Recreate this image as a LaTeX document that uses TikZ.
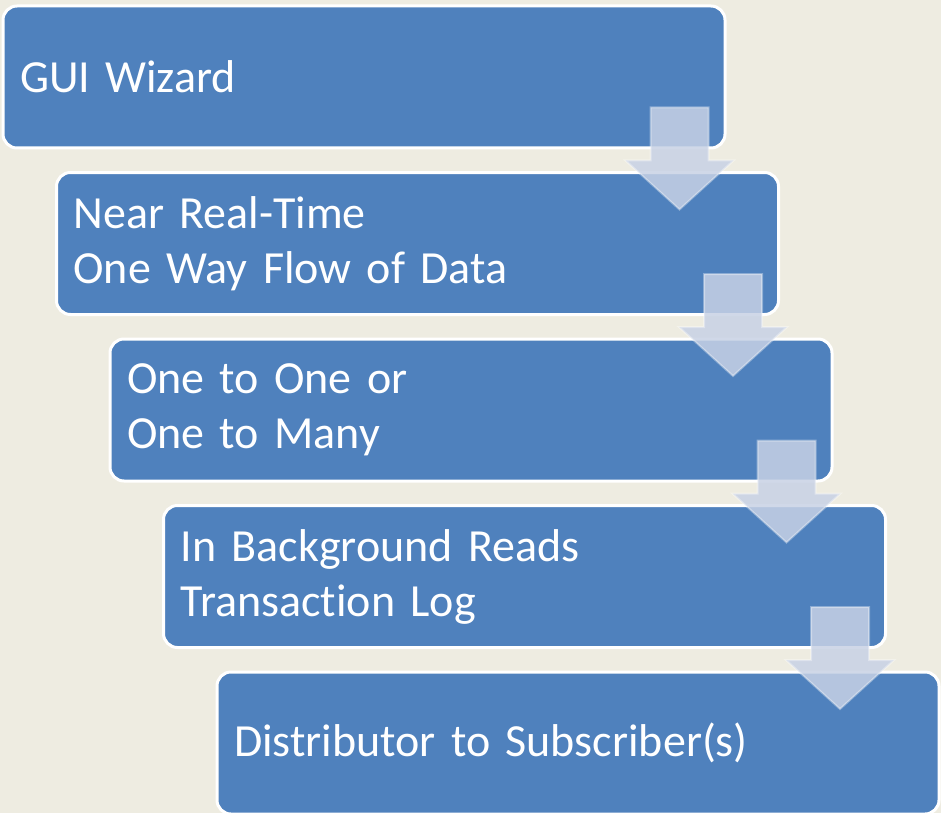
\documentclass[tikz,border=0pt]{standalone}
\usepackage{fontspec}
\setmainfont[Ligatures=NoCommon]{Carlito}
\usetikzlibrary{calc}

\definecolor{stageblue}{HTML}{4F81BD}
\definecolor{paper}{HTML}{EEECE1}
\definecolor{arrowfill}{HTML}{C8D2E5}

\tikzset{
    stage/.style={draw=white, line width=3pt, fill=stageblue, rounded corners=14pt,
        anchor=north west, minimum width=722pt, minimum height=142pt,
        text width=688pt, inner xsep=16pt, align=left, text=white,
        font=\fontsize{46}{55}\selectfont},
    flowarrow/.style={fill=arrowfill, fill opacity=0.85, draw=white, draw opacity=0.35,
        line width=2pt, line join=miter},
}

\begin{document}
\begin{tikzpicture}[x=1pt, y=1pt]
        \fill[paper] (0, 0) rectangle (941, -813);
        \useasboundingbox (0, 0) rectangle (941, -813);

        \node[stage] (wizard) at (1.5, -4.5) {GUI Wizard};
        \node[stage] (realtime) at (55, -171) {Near Real-Time\\One Way Flow of Data};
        \node[stage] (onetomany) at (108.5, -337.5) {One to One or\\One to Many};
        \node[stage] (background) at (162, -504) {In Background Reads\\Transaction Log};
        \node[stage] (distributor) at (215.5, -670.5) {Distributor to Subscriber(s)};

        % arrows hang from the lower right corner of each box
        \foreach \s in {wizard, realtime, onetomany, background} {
            \filldraw[flowarrow] ($(\s.south east) + (-76, 42)$) -- ++(58, 0) -- ++(0, -53)
                -- ++(25, 0) -- ++(-54, -49) -- ++(-54, 49) -- ++(25, 0) -- cycle;
        }
    \end{tikzpicture}
\end{document}
